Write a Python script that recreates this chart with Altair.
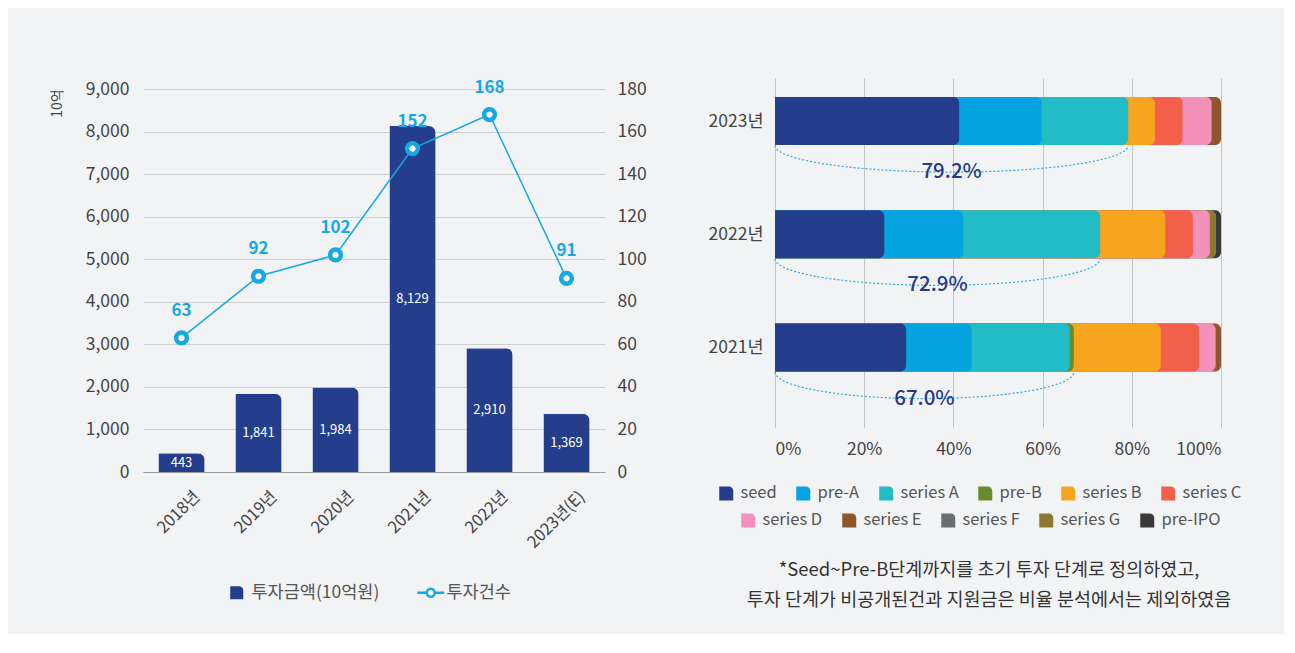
import altair as alt
import pandas as pd
import numpy as np

# ---------------- data ----------------
years = ["2018년", "2019년", "2020년", "2021년", "2022년", "2023년(E)"]
amounts = [443, 1841, 1984, 8129, 2910, 1369]
counts = [63, 92, 102, 152, 168, 91]
amount_name = "투자금액(10억원)"
count_name = "투자건수"

bar_years = ["2021년", "2022년", "2023년"]
stages = ["seed", "pre-A", "series A", "pre-B", "series B", "series C",
          "series D", "series E", "series F", "series G", "pre-IPO"]
stage_colors = ["#243E8C", "#05A3E0", "#21BCC6", "#688B2E", "#F7A51E", "#F2604C",
                "#F291BA", "#8E562B", "#6C6D70", "#8D7A30", "#393939"]
share_2021 = [29.4, 14.7, 22.0, 0.9, 19.5, 8.6, 3.7, 1.2, 0, 0, 0]
share_2022 = [24.5, 17.7, 30.7, 0, 14.6, 6.2, 3.8, 0, 0, 1.4, 1.1]
share_2023 = [41.3, 18.5, 19.4, 0, 6.0, 6.2, 6.5, 2.1, 0, 0, 0]
early_pct = [67.0, 72.9, 79.2]
footnote = ["*Seed~Pre-B단계까지를 초기 투자 단계로 정의하였고,",
            "투자 단계가 비공개된건과 지원금은 비율 분석에서는 제외하였음"]

FONT = "Noto Sans CJK KR"
NAVY = "#243E8C"
CYAN = "#15A9E4"
LABEL = "#444444"
LEG = "#555555"
GRID = "#CFCFCF"
BG = "#F2F3F5"
AXFS = 17.5

BAR_PATH = "M-1,-1 L0.35,-1 A0.65,0.65 0 0,1 1,-0.35 L1,1 L-1,1 Z"
LINE_PATH = ("M-2.2,0 L-0.65,0 M0.65,0 L2.2,0 "
             "M-0.65,0 A0.65,0.65 0 1,1 0.65,0 A0.65,0.65 0 1,1 -0.65,0 Z")

# ---------------- left chart ----------------
left_df = pd.DataFrame({"year": years, "amount": amounts, "count": counts,
                        "s1": amount_name, "s2": count_name})

y1 = alt.Scale(domain=[0, 9259], nice=False)
y2 = alt.Scale(domain=[0, 185.18], nice=False)
x_enc = alt.X("year:N", sort=years,
              scale=alt.Scale(paddingInner=0.4, paddingOuter=0.2),
              axis=alt.Axis(title=None, labelAngle=-45, labelFontSize=16.5,
                            labelColor=LABEL, ticks=False, domainColor="#9A9A9A",
                            labelPadding=16, labelOffset=10, labelFont=FONT))
left_axis = alt.Axis(values=list(range(0, 9001, 1000)), format=",d",
                     title="10억", titleAngle=-90, titleX=-86, titleY=25,
                     titleAlign="center", titleBaseline="middle",
                     titleFontSize=14, titleFontWeight="normal",
                     titleColor=LABEL, labelFontSize=AXFS, labelColor=LABEL,
                     labelPadding=14, ticks=False, domain=False,
                     gridColor=GRID, orient="left")

bars = alt.Chart(left_df).mark_bar(cornerRadiusTopRight=7).encode(
    x=x_enc,
    y=alt.Y("amount:Q", scale=y1, axis=left_axis),
    color=alt.Color("s1:N", scale=alt.Scale(domain=[amount_name], range=[NAVY]),
                    legend=alt.Legend(title=None, orient="none",
                                      legendX=85, legendY=506,
                                      symbolType=BAR_PATH, symbolSize=170,
                                      labelFontSize=17.5, labelColor=LEG,
                                      labelOffset=6)),
)
bar_labels = alt.Chart(left_df).transform_calculate(
    mid="datum.amount / 2"
).mark_text(color="white", fontSize=13, fontWeight="normal", baseline="middle").encode(
    x=alt.X("year:N", sort=years),
    y=alt.Y("mid:Q", scale=y1, axis=left_axis),
    text=alt.Text("amount:Q", format=","),
)

right_axis = alt.Axis(orient="right", values=list(range(0, 181, 20)),
                      title=None, labelFontSize=AXFS, labelColor=LABEL,
                      labelPadding=12, ticks=False, domain=False, grid=False)
line = alt.Chart(left_df).mark_line(strokeWidth=1.5).encode(
    x=alt.X("year:N", sort=years),
    y=alt.Y("count:Q", scale=y2, axis=right_axis),
    stroke=alt.Stroke("s2:N", scale=alt.Scale(domain=[count_name], range=[CYAN]),
                      legend=alt.Legend(title=None, orient="none",
                                        legendX=279, legendY=506,
                                        symbolType=LINE_PATH, symbolSize=150,
                                        symbolStrokeWidth=2.5,
                                        symbolFillColor="white",
                                        labelFontSize=17.5, labelColor=LEG,
                                        labelOffset=7)),
)
points = alt.Chart(left_df).mark_circle(size=115, fill="white", stroke=CYAN,
                                        strokeWidth=4.5, opacity=1).encode(
    x=alt.X("year:N", sort=years),
    y=alt.Y("count:Q", scale=y2, axis=right_axis),
)
point_labels = alt.Chart(left_df).mark_text(dy=-27, fontSize=17, fontWeight="bold",
                                            color=CYAN).encode(
    x=alt.X("year:N", sort=years),
    y=alt.Y("count:Q", scale=y2, axis=right_axis),
    text="count:Q",
)

left = alt.layer(
    alt.layer(bars, bar_labels),
    alt.layer(line, points, point_labels),
).resolve_scale(y="independent").properties(width=462, height=394)

# ---------------- right chart ----------------
rows = []
for i, shares in enumerate([share_2021, share_2022, share_2023]):
    cum = 0.0
    for st, v in zip(stages, shares):
        if v > 0:
            cum += v
            rows.append({"yi": i, "stage": st, "end": round(cum, 2)})
stack_df = pd.DataFrame(rows).sort_values("end", ascending=False)
row1_stages, row2_stages = stages[:6], stages[6:]
row1_colors, row2_colors = stage_colors[:6], stage_colors[6:]
stack1_df = stack_df[stack_df["stage"].isin(row1_stages)]
stack2_df = stack_df[stack_df["stage"].isin(row2_stages)]

HALF = 0.216   # half bar thickness in y units
DEPTH = 0.235  # depth of the brace curve
arc_rows = []
for i, e in enumerate(early_pct):
    for t in np.linspace(0, np.pi, 61):
        arc_rows.append({"yi": i, "ax": e / 2 * (1 - np.cos(t)),
                         "ay": i - HALF - DEPTH * np.sin(t)})
arc_df = pd.DataFrame(arc_rows)
lab_df = pd.DataFrame({"yi": list(range(3)), "early": early_pct})
lab_df["mid"] = lab_df["early"] / 2
lab_df["ly"] = lab_df["yi"] - HALF - DEPTH
lab_df["txt"] = [f"{v:.1f}%" for v in early_pct]

xs = alt.Scale(domain=[0, 100], nice=False, padding=0)
ys = alt.Scale(domain=[-0.7108, 2.3797], nice=False, zero=False, padding=0)

x_right = alt.X("end:Q", scale=xs,
                axis=alt.Axis(values=list(range(0, 101, 20)),
                              labelExpr="datum.value + '%'", title=None,
                              labelFontSize=AXFS, labelColor=LABEL, labelPadding=12,
                              ticks=False, domain=False, gridColor="#C4C4C4"))
y_right = alt.Y("yi:Q", scale=ys,
                axis=alt.Axis(values=[0, 1, 2],
                              labelExpr="['2021년','2022년','2023년'][datum.value]",
                              title=None, labelFontSize=AXFS, labelColor=LABEL,
                              labelPadding=12, ticks=False, domain=False, grid=False))
leg_common = dict(title=None, orient="none", direction="horizontal",
                  symbolType=BAR_PATH, symbolSize=196, labelFontSize=16.5,
                  labelColor=LEG, labelOffset=6, columnPadding=18)
bar_mark = dict(orient="horizontal", size=48, cornerRadiusTopRight=6,
                cornerRadiusBottomRight=6)

# later stages (second legend row) are drawn underneath
stack2 = alt.Chart(stack2_df).mark_bar(**bar_mark).encode(
    x=x_right, x2=alt.datum(0), y=y_right,
    fill=alt.Fill("stage:N", scale=alt.Scale(domain=row2_stages, range=row2_colors),
                  legend=alt.Legend(columns=5, legendX=-35, legendY=434,
                                    **leg_common)),
)
stack1 = alt.Chart(stack1_df).mark_bar(**bar_mark).encode(
    x=x_right, x2=alt.datum(0), y=y_right,
    color=alt.Color("stage:N", scale=alt.Scale(domain=row1_stages, range=row1_colors),
                    legend=alt.Legend(columns=6, legendX=-57, legendY=407,
                                      **leg_common)),
)
arcs = alt.Chart(arc_df).mark_line(color="#29ABE2", strokeWidth=1.2,
                                   strokeDash=[2, 2]).encode(
    x=alt.X("ax:Q", scale=xs),
    y=alt.Y("ay:Q", scale=ys),
    detail="yi:N",
)
pct = alt.Chart(lab_df).mark_text(fontSize=20.5, fontWeight=500, color="#263B8A",
                                  baseline="middle").encode(
    x=alt.X("mid:Q", scale=xs),
    y=alt.Y("ly:Q", scale=ys),
    text="txt:N",
)

right = alt.layer(stack2, stack1, arcs, pct).properties(
    width=446, height=350,
    title=alt.Title(footnote, orient="bottom", anchor="middle", frame="bounds",
                    fontSize=18.5, fontWeight="normal", color="#333333",
                    lineHeight=30, offset=32, dx=14, font=FONT),
)

chart = alt.hconcat(left, right, spacing=61).resolve_scale(
    color="independent", stroke="independent", fill="independent"
).resolve_legend(color="independent", stroke="independent",
                 fill="independent").properties(
    background=BG,
    padding={"left": 42, "top": 70, "right": 42, "bottom": 24},
).configure(font=FONT).configure_view(stroke=None).configure_axis(
    labelFont=FONT, titleFont=FONT
).configure_legend(labelFont=FONT)

chart.save("out.html", embed_options={"renderer": "svg", "actions": False})
